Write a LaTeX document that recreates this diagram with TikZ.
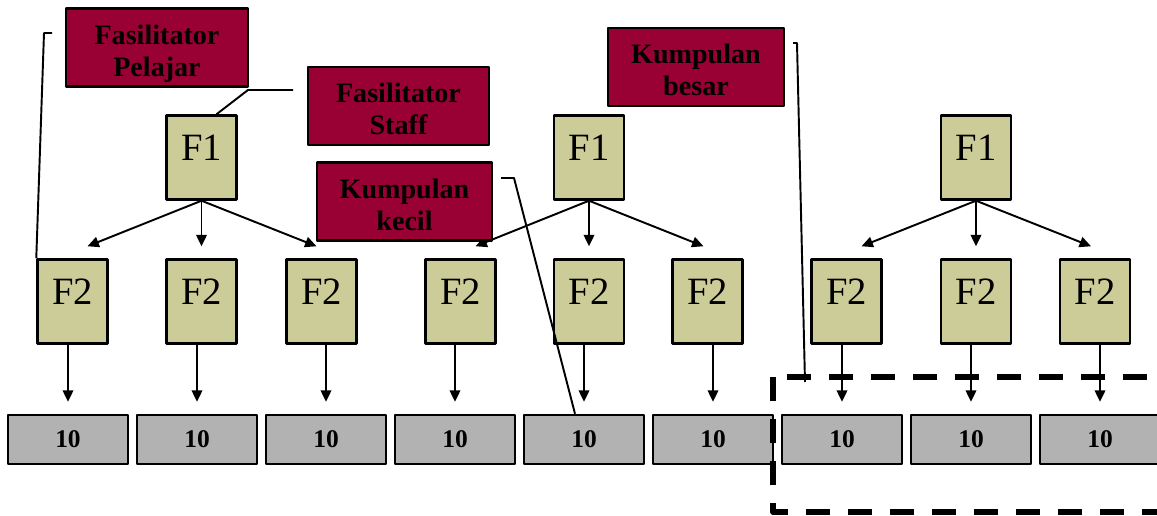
\documentclass[tikz,border=0pt]{standalone}
\usepackage{fontspec}
\setmainfont{Liberation Serif}
\usetikzlibrary{arrows.meta}
\definecolor{tagred}{RGB}{153,0,51}
\definecolor{fkhaki}{RGB}{204,204,153}
\definecolor{tengray}{RGB}{178,178,178}
\tikzset{
	fnode/.style={draw, line width=1.4pt, fill=fkhaki, inner sep=0pt, minimum width=1.4cm, text height=0.9cm, text depth=0.78cm, font=\fontsize{22}{24}\selectfont},
	tenbox/.style={draw, line width=1.4pt, fill=tengray, inner sep=0pt, minimum width=2.4cm, minimum height=0.98cm, font=\bfseries\fontsize{14.5}{16}\selectfont},
	tag/.style={draw, line width=1.4pt, fill=tagred, inner sep=0pt, minimum width=3.52cm, minimum height=1.56cm, align=center, text height=36pt, text depth=3.5pt, font=\bfseries\fontsize{16}{18}\selectfont},
	lead/.style={line width=1.1pt},
	link/.style={->, line width=1.1pt},
	frame/.style={line width=3.3pt, line cap=butt, dash pattern=on 0.48cm off 0.36cm, dash phase=0.56cm}
}
\begin{document}
\begin{tikzpicture}[line join=round, >={Triangle[length=6.5pt,width=6pt]}, x=0.02cm, y=-0.02cm]
	%Khung hinh.
	\useasboundingbox (0,0) rectangle (1157,516);
	%Hang F1.
	\node[fnode] (g1) at (201.5,157.5) {F1};
	\node[fnode] (g2) at (589,157.5) {F1};
	\node[fnode] (g3) at (976,157.5) {F1};
	%Hang F2.
	\node[fnode] (f2a) at (72.5,301.5) {F2};
	\node[fnode] (f2b) at (201.5,301.5) {F2};
	\node[fnode] (f2c) at (321.5,301.5) {F2};
	\node[fnode] (f2d) at (460.5,301.5) {F2};
	\node[fnode] (f2e) at (589,301.5) {F2};
	\node[fnode] (f2f) at (707.5,301.5) {F2};
	\node[fnode] (f2g) at (846.5,301.5) {F2};
	\node[fnode] (f2h) at (976,301.5) {F2};
	\node[fnode] (f2i) at (1095,301.5) {F2};
	%Hang 10.
	\node[tenbox] (t1) at (68,439.5) {10};
	\node[tenbox] (t2) at (197,439.5) {10};
	\node[tenbox] (t3) at (326,439.5) {10};
	\node[tenbox] (t4) at (455,439.5) {10};
	\node[tenbox] (t5) at (584,439.5) {10};
	\node[tenbox] (t6) at (713,439.5) {10};
	\node[tenbox] (t7) at (842,439.5) {10};
	\node[tenbox] (t8) at (971,439.5) {10};
	\node[tenbox] (t9) at (1100,439.5) {10};
	%F1 ke F2.
	\draw[link] (g1.south) -- ([shift={(15,-12)}]f2a.north);
	\draw[link, shorten >=0.24cm] (g1.south) -- (f2b.north);
	\draw[link] (g1.south) -- ([shift={(-5,-12)}]f2c.north);
	\draw[link] (g2.south) -- ([shift={(15,-12)}]f2d.north);
	\draw[link, shorten >=0.24cm] (g2.south) -- (f2e.north);
	\draw[link] (g2.south) -- ([shift={(-4,-12)}]f2f.north);
	\draw[link] (g3.south) -- ([shift={(15,-12)}]f2g.north);
	\draw[link, shorten >=0.24cm] (g3.south) -- (f2h.north);
	\draw[link] (g3.south) -- ([shift={(-4,-12)}]f2i.north);
	%F2 ke 10.
	\draw[link, shorten >=0.24cm] (t1.north |- f2a.south) -- (t1.north);
	\draw[link, shorten >=0.24cm] (t2.north |- f2b.south) -- (t2.north);
	\draw[link, shorten >=0.24cm] (t3.north |- f2c.south) -- (t3.north);
	\draw[link, shorten >=0.24cm] (t4.north |- f2d.south) -- (t4.north);
	\draw[link, shorten >=0.24cm] (t5.north |- f2e.south) -- (t5.north);
	\draw[link, shorten >=0.24cm] (t6.north |- f2f.south) -- (t6.north);
	\draw[link, shorten >=0.24cm] (t7.north |- f2g.south) -- (t7.north);
	\draw[link, shorten >=0.24cm] (t8.north |- f2h.south) -- (t8.north);
	\draw[link, shorten >=0.24cm] (t9.north |- f2i.south) -- (t9.north);
	%Kumpulan besar.
	\draw[frame] (773,377) -- (1203,377) -- (1203,512) -- (773,512) -- cycle;
	%Label.
	\node[tag, minimum width=3.64cm] (lp) at (157,47.5) {Fasilitator\\Pelajar};
	\node[tag, minimum width=3.62cm] (ls) at (398.5,106) {Fasilitator\\Staff};
	\node[tag, minimum width=3.5cm] (lk) at (404.5,201.5) {Kumpulan\\kecil};
	\node[tag] (lb) at (696,67) {Kumpulan\\besar};
	%Garis label.
	\coordinate (kp) at (52,33);
	\coordinate (ks) at (293,90);
	\coordinate (kk) at (501,178);
	\coordinate (kb) at (793,43);
	\coordinate (kbend) at (805,382);
	\draw[lead] (kp) -- ++(-8,0) -- (f2a.north west);
	\draw[lead] (ks) -- ++(-45,0) -- ([xshift=0.3cm]g1.north);
	\draw[lead] (kk) -- ++(13,0) -- ([xshift=-0.18cm]t5.north);
	\draw[lead] (kb) -- ++(4,0) -- (kbend);
\end{tikzpicture}
\end{document}
